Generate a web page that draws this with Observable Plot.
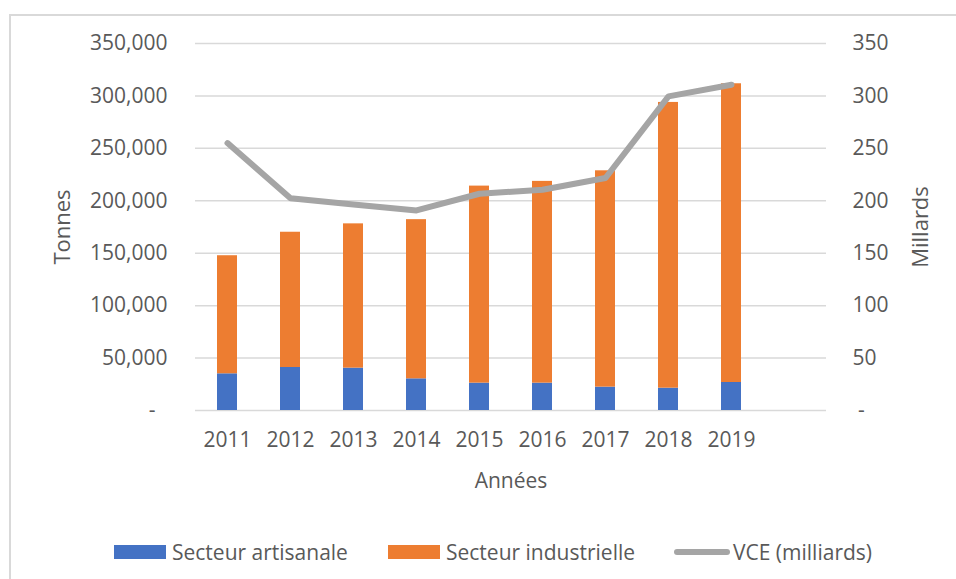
<!DOCTYPE html>
<html>
<head>
<meta charset="utf-8">
<script src="https://cdn.jsdelivr.net/npm/d3@7"></script>
<script src="https://cdn.jsdelivr.net/npm/@observablehq/plot@0.6"></script>
<style>
  html, body { margin: 0; padding: 0; background: #fff; overflow: hidden; }
  #wrap { position: relative; width: 956px; height: 579px; font-family: "Open Sans", sans-serif; }
  #border { position: absolute; left: 9px; top: 14px; width: 1100px; height: 1000px; border: 2px solid #d9d9d9; pointer-events: none; }
  #legend { position: absolute; left: 0; top: 520px; width: 956px; height: 59px; }
  .item { position: absolute; top: 19px; height: 26px; display: flex; align-items: center; font-size: 21px; color: #595959; white-space: nowrap; }
  .sw { display: inline-block; width: 52px; height: 14px; margin-right: 6px; }
  .ln { display: inline-block; width: 56px; height: 6px; border-radius: 3px; background: #a5a5a5; margin-right: 3px; }
</style>
</head>
<body>
<div id="wrap">
  <div id="chart"></div>
  <div id="legend">
    <div class="item" style="left:114px"><span class="sw" style="background:#4472c4"></span>Secteur artisanale</div>
    <div class="item" style="left:388px"><span class="sw" style="background:#ed7d31"></span>Secteur industrielle</div>
    <div class="item" style="left:674px"><span class="ln"></span>VCE (milliards)</div>
  </div>
  <div id="border"></div>
</div>
<script>
const years = ["2011","2012","2013","2014","2015","2016","2017","2018","2019"];
const artisanale = [35000, 41000, 40400, 30200, 26100, 26100, 22300, 21300, 26700];
const industrielle = [112600, 129000, 137600, 151800, 187900, 192400, 206300, 272500, 284900];
const vce = [255, 202.5, 196.5, 190.8, 206.7, 210.5, 221.7, 299.6, 310.7];
const leftTicks = [0, 50000, 100000, 150000, 200000, 250000, 300000, 350000];
const rightTicks = [0, 50, 100, 150, 200, 250, 300, 350];
const xDomain = [...years, " "];

const bars = [];
years.forEach((y, i) => {
  bars.push({year: y, secteur: "Secteur artisanale", value: artisanale[i]});
  bars.push({year: y, secteur: "Secteur industrielle", value: industrielle[i]});
});
const line = years.map((y, i) => ({year: y, v: vce[i] * 1000}));

const textColor = "#595959";
const chart = Plot.plot({
  width: 956,
  height: 520,
  marginLeft: 195,
  marginRight: 130,
  marginTop: 43,
  marginBottom: 110,
  style: {fontFamily: "'Open Sans', sans-serif", fontSize: "21px", color: textColor, background: "transparent"},
  x: {domain: xDomain, paddingInner: 0.68, paddingOuter: 0.34},
  y: {domain: [0, 350000]},
  color: {domain: ["Secteur artisanale", "Secteur industrielle"], range: ["#4472c4", "#ed7d31"]},
  marks: [
    Plot.gridY(leftTicks, {stroke: "#d9d9d9", strokeOpacity: 1, strokeWidth: 1.5}),
    Plot.barY(bars, {x: "year", y: "value", fill: "secteur", order: ["Secteur artisanale", "Secteur industrielle"]}),
    Plot.lineY(line, {x: "year", y: "v", stroke: "#a5a5a5", strokeWidth: 6, strokeLinecap: "round", strokeLinejoin: "round"}),
    Plot.axisY({ticks: leftTicks, tickSize: 0, tickPadding: 28, tickFormat: d => d === 0 ? "-\u2007" : d3.format(",")(d),
      label: null, fontSize: 21, fill: textColor}),
    Plot.axisY({ticks: [175000], tickSize: 0, tickFormat: () => "", label: "Tonnes", labelArrow: "none",
      labelAnchor: "center", labelOffset: 141, fontSize: 22, fill: textColor}),
    Plot.axisY({anchor: "right", ticks: rightTicks.map(v => v * 1000), tickSize: 0, tickPadding: 26,
      tickFormat: d => d === 0 ? "\u00a0-" : String(d / 1000), label: null, fontSize: 21, fill: textColor}),
    Plot.axisY({anchor: "right", ticks: [175000], tickSize: 0, tickFormat: () => "", label: "Millards", labelArrow: "none",
      labelAnchor: "center", labelOffset: 101, fontSize: 22, fill: textColor}),
    Plot.axisX({ticks: years, tickSize: 0, tickPadding: 22, label: "Années", labelArrow: "none",
      labelAnchor: "center", labelOffset: 77, fontSize: 21, fill: textColor})
  ]
});
document.getElementById("chart").appendChild(chart);
</script>
</body>
</html>
